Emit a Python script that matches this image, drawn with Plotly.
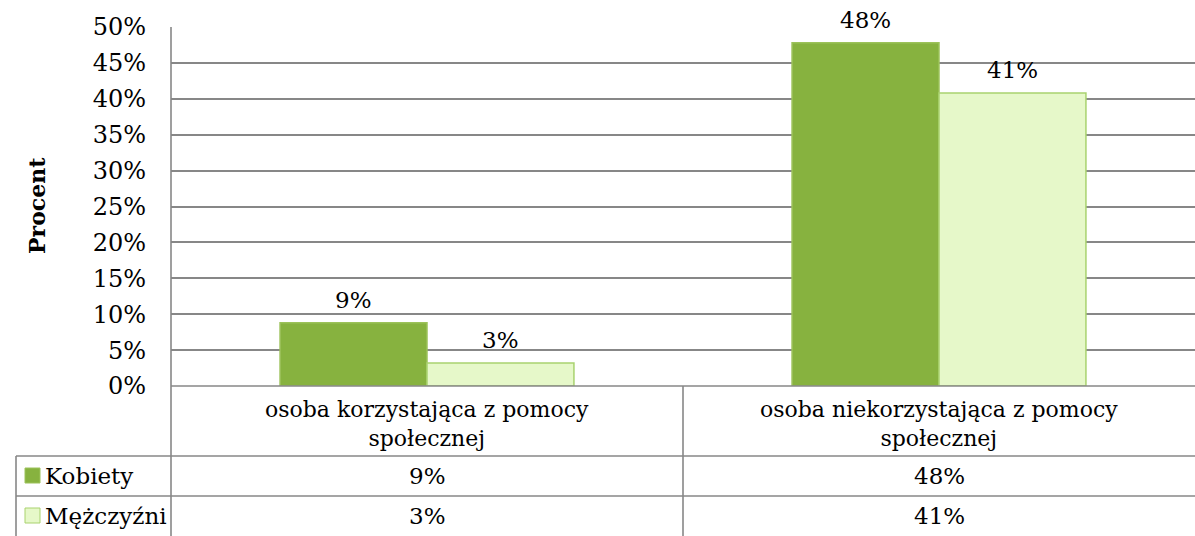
import plotly.graph_objects as go

# ---- data ----
categories = ["osoba korzystająca z pomocy społecznej",
              "osoba niekorzystająca z pomocy społecznej"]
category_lines = ["osoba korzystająca z pomocy<br>społecznej",
                  "osoba niekorzystająca z pomocy<br>społecznej"]
series_names = ["Kobiety", "Mężczyźni"]
kobiety = [0.088, 0.478]
mezczyzni = [0.032, 0.408]
kobiety_labels = ["9%", "48%"]
mezczyzni_labels = ["3%", "41%"]
y_tick_vals = [0, 0.05, 0.10, 0.15, 0.20, 0.25, 0.30, 0.35, 0.40, 0.45, 0.50]
y_tick_text = ["0%", "5%", "10%", "15%", "20%", "25%", "30%", "35%", "40%", "45%", "50%"]
y_title = "Procent"

# ---- layout geometry (pixels) ----
W, H = 1195, 536
ML, MR, MT, MB = 171, 0, 27, 150
PW, PH = W - ML - MR, H - MT - MB
FONT = "DejaVu Serif"
FS = 22
GRID = "#878787"

def px_x(p):
    return (p - ML) / PW

def px_y(p):
    return (H - MB - p) / PH

fill_k = "#87b23f"
line_k = "#9cc25a"
fill_m = "#e6f8c9"
line_m = "#a9d26f"

fig = go.Figure()
fig.add_trace(go.Bar(x=categories, y=kobiety, name=series_names[0],
                     marker=dict(color=fill_k, line=dict(color=line_k, width=1.5))))
fig.add_trace(go.Bar(x=categories, y=mezczyzni, name=series_names[1],
                     marker=dict(color=fill_m, line=dict(color=line_m, width=1.5))))

bargap = 0.426
bar_px = PW / len(categories) * (1 - bargap) / 2

annotations = []
for i, cat in enumerate(categories):
    annotations.append(dict(x=cat, y=kobiety[i], xref="x", yref="y", text=kobiety_labels[i],
                            showarrow=False, yanchor="bottom", xshift=-bar_px / 2, yshift=8,
                            font=dict(family=FONT, size=FS + 1, color="#000")))
    annotations.append(dict(x=cat, y=mezczyzni[i], xref="x", yref="y", text=mezczyzni_labels[i],
                            showarrow=False, yanchor="bottom", xshift=bar_px / 2, yshift=8,
                            font=dict(family=FONT, size=FS + 1, color="#000")))
    # table: category row
    annotations.append(dict(x=cat, y=px_y(424), xref="x", yref="paper", text=category_lines[i],
                            showarrow=False, yanchor="middle",
                            font=dict(family=FONT, size=FS, color="#000")))
    annotations.append(dict(x=cat, y=px_y(476), xref="x", yref="paper", text=kobiety_labels[i],
                            showarrow=False, yanchor="middle",
                            font=dict(family=FONT, size=FS + 1, color="#000")))
    annotations.append(dict(x=cat, y=px_y(516), xref="x", yref="paper", text=mezczyzni_labels[i],
                            showarrow=False, yanchor="middle",
                            font=dict(family=FONT, size=FS + 1, color="#000")))

# legend names in the table
annotations.append(dict(x=px_x(43), y=px_y(476), xref="paper", yref="paper", text=series_names[0],
                        showarrow=False, xanchor="left", yanchor="middle",
                        font=dict(family=FONT, size=FS + 1, color="#000")))
annotations.append(dict(x=px_x(43), y=px_y(516), xref="paper", yref="paper", text=series_names[1],
                        showarrow=False, xanchor="left", yanchor="middle",
                        font=dict(family=FONT, size=FS + 1, color="#000")))
# y-axis title
annotations.append(dict(x=px_x(37), y=px_y(206), xref="paper", yref="paper", text="<b>" + y_title + "</b>",
                        showarrow=False, textangle=-90, xanchor="center", yanchor="middle",
                        font=dict(family=FONT, size=FS, color="#000")))

line_style = dict(color=GRID, width=1.6)
shapes = [
    # y axis line through the table
    dict(type="line", xref="paper", yref="paper", x0=0, x1=0, y0=1, y1=px_y(540), line=line_style),
    # left border of legend column
    dict(type="line", xref="paper", yref="paper", x0=px_x(16), x1=px_x(16), y0=px_y(456), y1=px_y(540), line=line_style),
    # separator between categories
    dict(type="line", xref="x", yref="paper", x0=0.5, x1=0.5, y0=0, y1=px_y(540), line=line_style),
    # horizontal table lines
    dict(type="line", xref="paper", yref="paper", x0=0, x1=1, y0=0, y1=0, line=line_style),
    dict(type="line", xref="paper", yref="paper", x0=px_x(16), x1=1, y0=px_y(456), y1=px_y(456), line=line_style),
    dict(type="line", xref="paper", yref="paper", x0=px_x(16), x1=1, y0=px_y(496), y1=px_y(496), line=line_style),
    # legend swatches
    dict(type="rect", xref="paper", yref="paper", x0=px_x(25), x1=px_x(40), y0=px_y(468), y1=px_y(483),
         fillcolor=fill_k, line=dict(color=line_k, width=1)),
    dict(type="rect", xref="paper", yref="paper", x0=px_x(25), x1=px_x(40), y0=px_y(508), y1=px_y(523),
         fillcolor=fill_m, line=dict(color=line_m, width=1)),
]

fig.update_layout(
    width=W, height=H,
    margin=dict(l=ML, r=MR, t=MT, b=MB, pad=0),
    paper_bgcolor="white", plot_bgcolor="white",
    barmode="group", bargap=bargap, bargroupgap=0,
    showlegend=False,
    font=dict(family=FONT, size=FS, color="#000"),
    annotations=annotations, shapes=shapes,
    xaxis=dict(showticklabels=False, showgrid=False, zeroline=False, showline=False,
               range=[-0.5, 1.5], fixedrange=True),
    yaxis=dict(range=[0, 0.5], tickvals=y_tick_vals, ticktext=y_tick_text,
               showgrid=True, gridcolor=GRID, gridwidth=1.6, zeroline=False,
               showline=False, ticks="", ticklabelstandoff=24,
               tickfont=dict(family=FONT, size=FS + 2, color="#000"), fixedrange=True),
)

fig.write_html("out.html", config={"displayModeBar": False},
               post_script="document.body.style.margin='0';document.body.style.overflow='hidden';")
